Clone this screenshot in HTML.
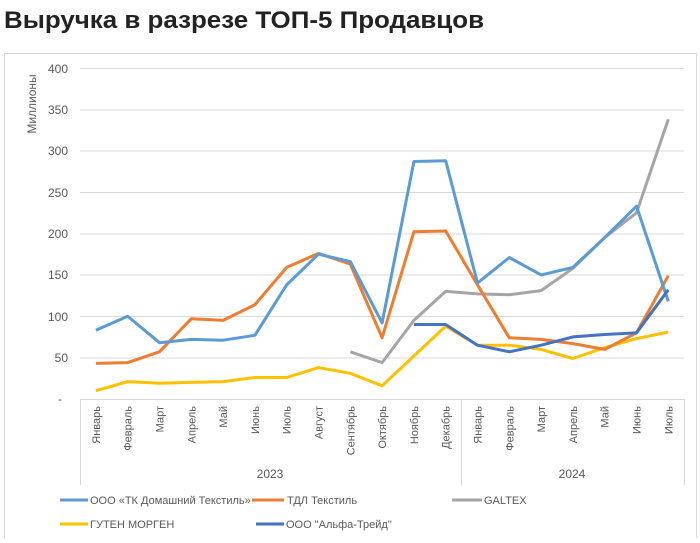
<!DOCTYPE html>
<html><head><meta charset="utf-8"><style>
body{margin:0;background:#fff;width:700px;height:538px;overflow:hidden;font-family:"Liberation Sans",sans-serif}
</style></head><body>
<svg id="s" width="700" height="538" xmlns="http://www.w3.org/2000/svg" font-family="Liberation Sans, sans-serif">
<text x="4" y="28" font-size="24" font-weight="bold" fill="#222" textLength="480" lengthAdjust="spacingAndGlyphs">Выручка в разрезе ТОП-5 Продавцов</text>
<rect x="4.5" y="53.5" width="692" height="490" fill="none" stroke="#d9d9d9"/>
<g stroke="#d9d9d9" stroke-width="1">
<line x1="80" x2="684" y1="68.5" y2="68.5"/><line x1="80" x2="684" y1="110" y2="110"/>
<line x1="80" x2="684" y1="151" y2="151"/><line x1="80" x2="684" y1="192.5" y2="192.5"/>
<line x1="80" x2="684" y1="234" y2="234"/><line x1="80" x2="684" y1="275" y2="275"/>
<line x1="80" x2="684" y1="316.5" y2="316.5"/><line x1="80" x2="684" y1="358" y2="358"/>
<line x1="80" x2="684" y1="399.5" y2="399.5"/>
<line x1="80.5" x2="80.5" y1="399" y2="485"/><line x1="461.5" x2="461.5" y1="399" y2="485"/><line x1="684.5" x2="684.5" y1="399" y2="485"/>
</g>
<g font-size="12" fill="#595959" text-anchor="end">
<text x="68" y="73">400</text><text x="68" y="114">350</text><text x="68" y="155">300</text>
<text x="68" y="197">250</text><text x="68" y="238">200</text><text x="68" y="279">150</text>
<text x="68" y="321">100</text><text x="68" y="362">50</text><text x="62" y="403">-</text>
</g>
<text transform="translate(36,104) rotate(-90)" font-size="12" fill="#595959" text-anchor="middle">Миллионы</text>
<g id="mon" font-size="11" fill="#595959" text-anchor="end"></g>
<g font-size="12" fill="#595959" text-anchor="middle"><text x="270" y="478">2023</text><text x="572" y="478">2024</text></g>
<g id="lines" fill="none" stroke-width="3" stroke-linejoin="round"></g>
<g font-size="11" fill="#595959">
<line x1="60" x2="88" y1="500" y2="500" stroke="#5b9bd5" stroke-width="3"/><text x="90" y="504">ООО «ТК Домашний Текстиль»</text>
<line x1="252" x2="284" y1="500" y2="500" stroke="#ed7d31" stroke-width="3"/><text x="287" y="504">ТДЛ Текстиль</text>
<line x1="452" x2="482" y1="500" y2="500" stroke="#a5a5a5" stroke-width="3"/><text x="484" y="504">GALTEX</text>
<line x1="60" x2="88" y1="524" y2="524" stroke="#ffc000" stroke-width="3"/><text x="90" y="528">ГУТЕН МОРГЕН</text>
<line x1="256" x2="284" y1="524" y2="524" stroke="#4472c4" stroke-width="3"/><text x="286" y="528">ООО "Альфа-Трейд"</text>
</g>
</svg>
<script>
var ns="http://www.w3.org/2000/svg";
var m=["Январь","Февраль","Март","Апрель","Май","Июнь","Июль","Август","Сентябрь","Октябрь","Ноябрь","Декабрь","Январь","Февраль","Март","Апрель","Май","Июнь","Июль"];
function X(i){return 95.9+31.8*i}function Y(v){return 399-v*0.8275}
var g=document.getElementById("mon");
m.forEach(function(t,i){var e=document.createElementNS(ns,"text");e.setAttribute("transform","translate("+(X(i)+4)+",406) rotate(-90)");e.textContent=t;g.appendChild(e)});
var S=[["#a5a5a5",8,[57,44,95,130,127,126,131,158,195,225,338]],
["#ffc000",0,[10,21,19,20,21,26,26,38,31,16,52,88,65,65,60,49,62,73,81]],
["#ed7d31",0,[43,44,57,97,95,114,159,176,163,74,202,203,138,74,72,67,60,80,149]],
["#5b9bd5",0,[83,100,68,72,71,77,138,175,166,92,287,288,140,171,150,159,195,233,118]],
["#4472c4",10,[90,90,65,57,65,75,78,80,132]]];
var L=document.getElementById("lines");
S.forEach(function(s){var p=document.createElementNS(ns,"polyline");p.setAttribute("stroke",s[0]);p.setAttribute("points",s[2].map(function(v,i){return X(i+s[1]).toFixed(1)+","+Y(v).toFixed(1)}).join(" "));L.appendChild(p)});
</script>
</body></html>
